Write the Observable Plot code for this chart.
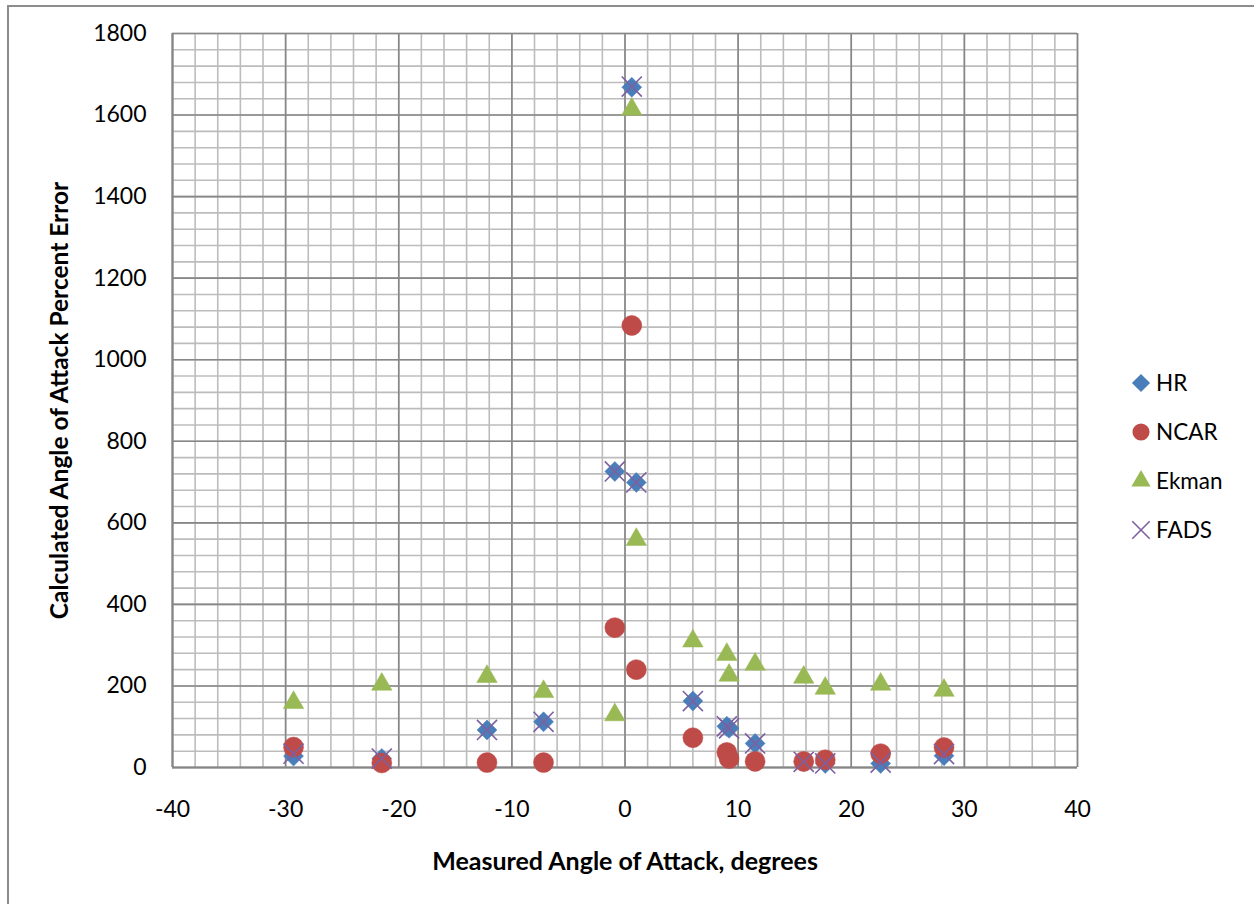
<!DOCTYPE html>
<html><head><meta charset="utf-8">
<script src="https://cdn.jsdelivr.net/npm/d3@7"></script>
<script src="https://cdn.jsdelivr.net/npm/@observablehq/plot@0.6"></script>
<style>
body{margin:0;background:#fff;}
#wrap{position:relative;width:1254px;height:904px;overflow:hidden;font-family:Lato,"Open Sans",sans-serif;}
#border{position:absolute;left:7px;top:5px;width:1300px;height:1000px;border-left:2px solid #8c8c8c;border-top:2px solid #8c8c8c;}
#chart{position:absolute;left:0;top:0;}
#legend{position:absolute;left:1128px;top:358px;}
.item{display:flex;align-items:center;height:49px;font-size:22.5px;color:#000;}
.item svg{margin-right:2px;}
</style></head><body>
<div id="wrap"><div id="border"></div><div id="chart"></div><div id="legend"></div></div>
<script>
// ---- data ----
const aoa   = [-29.3, -21.5, -12.2, -7.2, -0.9, 0.6, 1.0, 6.0, 9.0, 9.2, 11.5, 15.8, 17.7, 22.6, 28.2];
const hr    = [28, 22, 92, 112, 726, 1668, 699, 163, 101, 96, 59, 14, 10, 10, 29];
const ncar  = [50, 11, 12, 12, 343, 1084, 240, 73, 37, 22, 15, 15, 19, 34, 49];
const ekman = [159, 204, 223, 186, 129, 1614, 559, 310, 277, 226, 253, 221, 194, 204, 189];
const fads  = [34, 22, 92, 112, 726, 1670, 699, 163, 101, 96, 59, 14, 10, 12, 33];
const seriesNames = ["HR", "NCAR", "Ekman", "FADS"];
const xTicks = [-40, -30, -20, -10, 0, 10, 20, 30, 40];
const yTicks = [0, 200, 400, 600, 800, 1000, 1200, 1400, 1600, 1800];
const xTitle = "Measured Angle of Attack, degrees";
const yTitle = "Calculated Angle of Attack Percent Error";

const colors = {HR: "#4a7ebb", NCAR: "#be4b48", Ekman: "#98b954", FADS: "#7d60a0"};
const toRows = (vals) => aoa.map((x, i) => ({x, y: vals[i]}));

const xMinor = d3.range(-40, 40.001, 2);
const yMinor = d3.range(0, 1800.001, 40);
const gridMinor = "#bcbcbc", gridMajor = "#878787";
const plainFormat = d => String(d);

const chart = Plot.plot({
  width: 1254, height: 904,
  marginLeft: 172, marginRight: 177, marginTop: 33, marginBottom: 137,
  style: {fontFamily: "Lato, 'Open Sans', sans-serif", color: "#000", background: "transparent", overflow: "visible"},
  x: {domain: [-40, 40]},
  y: {domain: [0, 1800]},
  marks: [
    Plot.ruleX(xMinor, {stroke: gridMinor, strokeWidth: 1.6}),
    Plot.ruleY(yMinor, {stroke: gridMinor, strokeWidth: 1.6}),
    Plot.ruleX(xTicks, {stroke: gridMajor, strokeWidth: 1.6}),
    Plot.ruleY(yTicks, {stroke: gridMajor, strokeWidth: 1.6}),
    Plot.ruleX([-40], {stroke: "#868686", strokeWidth: 2}),
    Plot.ruleY([0], {stroke: "#868686", strokeWidth: 2}),
    Plot.axisX(xTicks, {tickSize: 0, tickPadding: 33, fontSize: 23, label: null, tickFormat: plainFormat}),
    Plot.axisY(yTicks, {tickSize: 0, tickPadding: 26, fontSize: 23, label: null, tickFormat: plainFormat}),
    Plot.text([xTitle], {text: d => d, frameAnchor: "bottom", dy: 94, textAnchor: "middle", lineAnchor: "middle", fontSize: 25, fontWeight: "bold"}),
    Plot.text([yTitle], {text: d => d, frameAnchor: "left", dx: -112, rotate: -90, textAnchor: "middle", lineAnchor: "middle", fontSize: 24.5, fontWeight: "bold"}),
    Plot.dot(toRows(hr), {x: "x", y: "y", symbol: "diamond2", r: 9, fill: colors.HR, stroke: colors.HR, strokeWidth: 0.5}),
    Plot.dot(toRows(ncar), {x: "x", y: "y", symbol: "circle", r: 10, fill: colors.NCAR, stroke: colors.NCAR, strokeWidth: 0.5}),
    Plot.dot(toRows(ekman), {x: "x", y: "y", symbol: "triangle", r: 7.6, fill: colors.Ekman, stroke: colors.Ekman, strokeWidth: 0.5}),
    Plot.dot(toRows(fads), {x: "x", y: "y", symbol: "times", r: 9.2, stroke: colors.FADS, strokeWidth: 1.6})
  ]
});
document.getElementById("chart").appendChild(chart);

// ---- legend ----
const legendSymbols = {HR: d3.symbolDiamond2, NCAR: d3.symbolCircle, Ekman: d3.symbolTriangle, FADS: d3.symbolTimes};
const legendSizes = {HR: 210, NCAR: 230, Ekman: 160, FADS: 200};
const legend = d3.select("#legend");
for (const name of seriesNames) {
  const item = legend.append("div").attr("class", "item");
  const svg = item.append("svg").attr("width", 26).attr("height", 26);
  const path = svg.append("path")
    .attr("transform", "translate(13,13)")
    .attr("d", d3.symbol(legendSymbols[name], legendSizes[name])());
  if (name === "FADS") path.attr("fill", "none").attr("stroke", colors[name]).attr("stroke-width", 1.6);
  else path.attr("fill", colors[name]);
  item.append("span").text(name);
}
</script>
</body></html>
